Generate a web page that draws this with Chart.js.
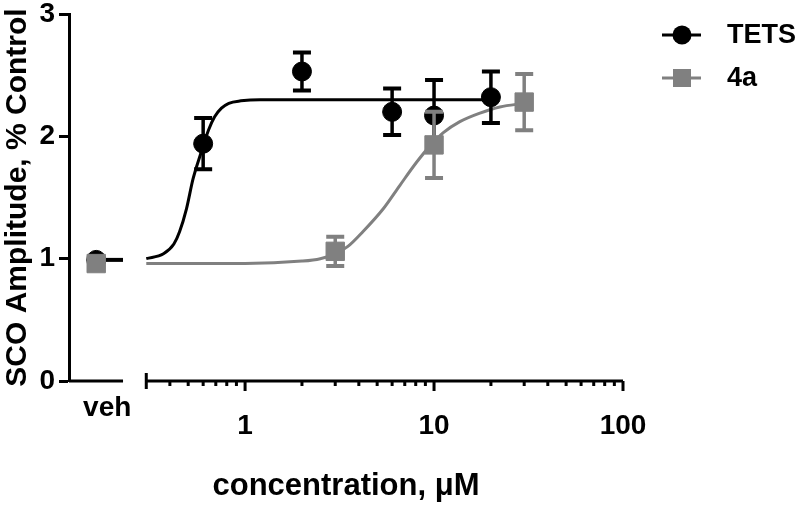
<!DOCTYPE html>
<html>
<head>
<meta charset="utf-8">
<script src="https://cdn.jsdelivr.net/npm/chart.js@4.4.0/dist/chart.umd.min.js"></script>
<style>body{margin:0;background:#fff}</style>
</head>
<body>
<canvas id="chart" width="800" height="505"></canvas>
<script>
// measured points (mean +/- error), concentration in uM
const tetsConc = [0.6, 2, 6, 10, 20];
const tetsMean = [1.94, 2.53, 2.20, 2.17, 2.32];
const tetsErr = [0.21, 0.155, 0.19, 0.29, 0.21];
const aConc = [3, 10, 30];
const aMean = [1.06, 1.93, 2.28];
const aErr = [0.12, 0.27, 0.23];
const vehMean = [0.99, 0.96]; // TETS, 4a
const vehErr = [0.02, 0.03];

// fitted curves
const tetsFitX = [0.3, 0.37, 0.42, 0.45, 0.49, 0.53, 0.58, 0.64, 0.69, 0.75, 0.82, 0.95, 1.2, 2, 5, 10, 20];
const tetsFitY = [1.00, 1.04, 1.12, 1.22, 1.41, 1.65, 1.85, 2.05, 2.16, 2.23, 2.27, 2.29, 2.30, 2.30, 2.30, 2.30, 2.30];
const aFitX = [0.3, 1, 2, 2.5, 3, 3.5, 4.2, 5.4, 6.6, 8.1, 9.5, 11.2, 13.7, 17.5, 22.3, 30];
const aFitY = [0.96, 0.96, 0.98, 1.00, 1.04, 1.10, 1.22, 1.41, 1.60, 1.79, 1.92, 2.03, 2.12, 2.19, 2.24, 2.27];

const xLabels = [1, 10, 100];
const xMinor = [0.4, 0.5, 0.6, 0.7, 0.8, 0.9, 2, 3, 4, 5, 6, 7, 8, 9, 20, 30, 40, 50, 60, 70, 80, 90];
const yTicks = [0, 1, 2, 3];

// where the vehicle column sits on the (broken) log axis
const vehX = 0.163;
const breakEnd = 0.226;
const axisStart = 0.3;
const xMin = 0.117;

const BLACK = '#000000';
const GRAY = '#808080';
const FONT = "'Liberation Sans', Arial, sans-serif";

function pts(xs, ys){
	return xs.map((x, i) => ({ x, y: ys[i] }));
}

const errorBars = {
	id: 'errorBars',
	beforeDatasetDraw(chart, args){
		const ds = chart.data.datasets[args.index];
		if(!ds.errors) return;
		const xs = chart.scales.x, ys = chart.scales.y;
		const ctx = chart.ctx;
		ctx.save();
		ctx.strokeStyle = ds.borderColor;
		ds.data.forEach((p, i) => {
			const e = ds.errors[i];
			const px = xs.getPixelForValue(p.x);
			const top = ys.getPixelForValue(p.y + e);
			const bot = ys.getPixelForValue(p.y - e);
			ctx.lineWidth = 3.5;
			ctx.beginPath();
			ctx.moveTo(px, top); ctx.lineTo(px, bot);
			ctx.stroke();
			ctx.lineWidth = 4;
			ctx.beginPath();
			ctx.moveTo(px - 9, top); ctx.lineTo(px + 9, top);
			ctx.moveTo(px - 9, bot); ctx.lineTo(px + 9, bot);
			ctx.stroke();
		});
		ctx.restore();
	}
};

const brokenAxis = {
	id: 'brokenAxis',
	afterDraw(chart){
		const ctx = chart.ctx;
		const xs = chart.scales.x;
		const y0 = chart.chartArea.bottom;
		const left = chart.chartArea.left;
		ctx.save();
		ctx.strokeStyle = BLACK;
		ctx.lineWidth = 3;
		ctx.beginPath();
		ctx.moveTo(left, y0); ctx.lineTo(xs.getPixelForValue(breakEnd), y0);
		const s = xs.getPixelForValue(axisStart);
		ctx.moveTo(s, y0); ctx.lineTo(xs.getPixelForValue(100), y0);
		ctx.moveTo(s, y0 - 8); ctx.lineTo(s, y0 + 8);
		xLabels.forEach(v => {
			const p = xs.getPixelForValue(v);
			ctx.moveTo(p, y0); ctx.lineTo(p, y0 + 10);
		});
		xMinor.forEach(v => {
			const p = xs.getPixelForValue(v);
			ctx.moveTo(p, y0); ctx.lineTo(p, y0 + 5);
		});
		ctx.stroke();

		ctx.fillStyle = BLACK;
		ctx.font = 'bold 28px ' + FONT;
		ctx.textAlign = 'center';
		ctx.textBaseline = 'middle';
		ctx.fillText('veh', xs.getPixelForValue(vehX) + 11, y0 + 27);

		// legend
		const items = [
			{ label: 'TETS', color: BLACK, style: 'circle', y: 35 },
			{ label: '4a', color: GRAY, style: 'rect', y: 78 }
		];
		items.forEach(it => {
			ctx.strokeStyle = it.color;
			ctx.fillStyle = it.color;
			ctx.lineWidth = 3;
			ctx.beginPath();
			ctx.moveTo(662, it.y); ctx.lineTo(701, it.y);
			ctx.stroke();
			if(it.style === 'circle'){
				ctx.beginPath();
				ctx.arc(682, it.y, 9.5, 0, Math.PI * 2);
				ctx.fill();
			}else{
				ctx.fillRect(673, it.y - 9, 18, 18);
			}
			ctx.fillStyle = BLACK;
			ctx.font = 'bold 27px ' + FONT;
			ctx.textAlign = 'left';
			ctx.fillText(it.label, 727, it.y + 1);
		});
		ctx.restore();
	}
};

const ctx = document.getElementById('chart').getContext('2d');
new Chart(ctx, {
	type: 'line',
	data: {
		datasets: [
			{
				label: 'TETS fit', data: pts(tetsFitX, tetsFitY),
				borderColor: BLACK, borderWidth: 3, pointRadius: 0,
				cubicInterpolationMode: 'monotone', order: 5
			},
			{
				label: '4a fit', data: pts(aFitX, aFitY),
				borderColor: GRAY, borderWidth: 3, pointRadius: 0,
				cubicInterpolationMode: 'monotone', order: 4
			},
			{
				label: 'TETS veh', data: pts([vehX, breakEnd], [vehMean[0], vehMean[0]]),
				borderColor: BLACK, borderWidth: 4, pointRadius: 0, order: 3
			},
			{
				label: 'TETS', data: pts([vehX].concat(tetsConc), [vehMean[0]].concat(tetsMean)),
				errors: [vehErr[0]].concat(tetsErr),
				showLine: false, borderColor: BLACK, backgroundColor: BLACK,
				pointStyle: 'circle', pointRadius: 9.5, order: 2
			},
			{
				label: '4a', data: pts([vehX].concat(aConc), [vehMean[1]].concat(aMean)),
				errors: [vehErr[1]].concat(aErr),
				showLine: false, borderColor: GRAY, backgroundColor: GRAY,
				pointStyle: 'rect', pointRadius: 13, order: 1
			}
		]
	},
	options: {
		responsive: false,
		animation: false,
		layout: { padding: { top: 10, right: 177, left: 0, bottom: 0 } },
		plugins: { legend: { display: false }, tooltip: { enabled: false } },
		scales: {
			x: {
				type: 'logarithmic', min: xMin, max: 100,
				afterBuildTicks(s){ s.ticks = xLabels.map(v => ({ value: v })); },
				afterFit(s){ s.height = 124; s.paddingLeft = 0; s.paddingRight = 0; },
				ticks: {
					callback: v => String(v), autoSkip: false, maxRotation: 0,
					color: BLACK, padding: 28,
					font: { family: FONT, size: 28, weight: 'bold' }
				},
				grid: { display: false, drawTicks: false },
				border: { display: false },
				title: {
					display: true, text: 'concentration, μM', color: BLACK, padding: 0,
					font: { family: FONT, size: 31, weight: 'bold' }
				}
			},
			y: {
				type: 'linear', min: 0, max: 3,
				afterBuildTicks(s){ s.ticks = yTicks.map(v => ({ value: v })); },
				afterFit(s){ s.width = 69; s.paddingTop = 0; s.paddingBottom = 0; },
				ticks: {
					color: BLACK, padding: 4,
					font: { family: FONT, size: 28, weight: 'bold' }
				},
				grid: { drawOnChartArea: false, drawTicks: true, tickLength: 10, tickWidth: 3, tickColor: BLACK },
				border: { display: true, width: 3, color: BLACK },
				title: {
					display: true, text: 'SCO Amplitude, % Control', color: BLACK, padding: 0,
					font: { family: FONT, size: 30, weight: 'bold' }
				}
			}
		}
	},
	plugins: [errorBars, brokenAxis]
});
</script>
</body>
</html>
